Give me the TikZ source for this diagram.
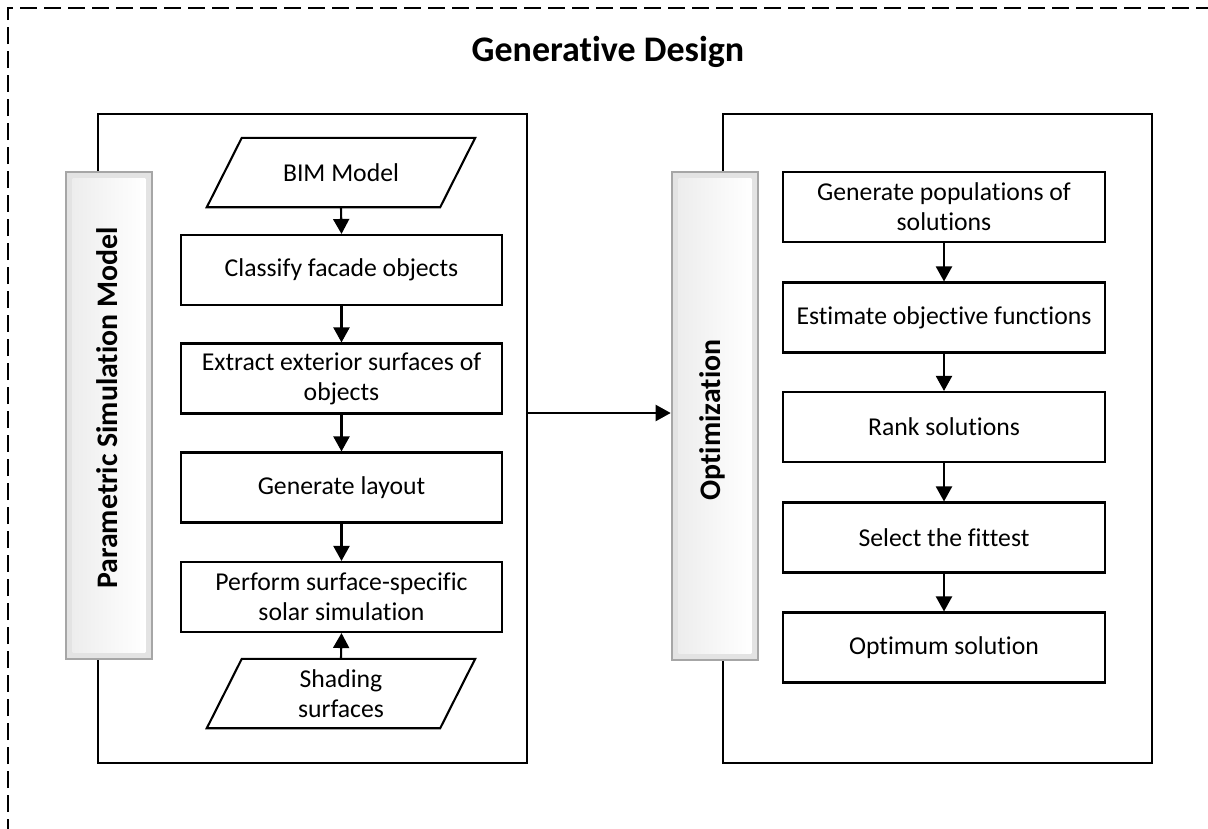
\documentclass[tikz,border=0pt]{standalone}
\usepackage{fontspec}
\setmainfont{Carlito}[Ligatures={NoCommon,NoContextual}]
\usetikzlibrary{arrows.meta,calc}
\begin{document}
\begin{tikzpicture}[x=1pt,y=-1pt,
  txt/.style={font=\fontsize{25.7}{30}\selectfont, align=center},
  stepbox/.style={txt, draw, line width=2.1pt, minimum width=321pt, minimum height=70pt, inner sep=0pt},
  databox/.style={txt, minimum width=268pt, minimum height=69pt, inner sep=0pt},
  paraline/.style={line width=2.1pt, line join=miter},
  flow/.style={line width=2.1pt, -{Triangle[length=15pt,width=16pt]}},
  panel/.style={draw, line width=2.1pt, minimum width=429pt, minimum height=649pt, inner sep=0pt},
  bar/.style={draw=gray!70, line width=2.6pt, fill=gray!22, minimum width=86pt, inner sep=0pt},
  barlabel/.style={font=\bfseries\fontsize{29.8}{34}\selectfont, rotate=90},
  frame/.style={line width=1.6pt, dash pattern=on 17pt off 7pt}
]
\useasboundingbox (0,0) rectangle (1208,828);
\clip (0,0) rectangle (1208,828);

% outer dashed frame
\draw[frame] (8,860) -- (8,8) -- (1240,8);

\node[font=\bfseries\fontsize{36}{42}\selectfont] (title) at (608,52) {Generative Design};

% the two panels
\node[panel] (simpanel) at (312.5,438.5) {};
\node[panel] (optpanel) at (937.5,438.5) {};

% vertical label bars
\node[bar, minimum height=487pt] (simbar) at (109,415.5) {};
\shade[left color=gray!14, right color=white] ($(simbar.north west)+(8,8)$) rectangle ($(simbar.south east)+(-8,-8)$);
\node[barlabel] (simlabel) at (107,408) {Parametric Simulation Model};

\node[bar, minimum height=488pt] (optbar) at (715,416) {};
\shade[left color=gray!14, right color=white] ($(optbar.north west)+(8,8)$) rectangle ($(optbar.south east)+(-8,-8)$);
\node[barlabel] (optlabel) at (712,420) {Optimization};

% left flow: simulation model
\node[databox] (bim) at (341,172.5) {BIM Model};
\draw[paraline] ($(bim.north west)+(35,0)$) -- (bim.north east) -- ($(bim.south east)+(-35,0)$) -- (bim.south west) -- cycle;
\node[stepbox] (classify) at (341.5,270) {Classify facade objects};
\node[stepbox] (extract) at (341.5,378.5) {Extract exterior surfaces of\\objects};
\node[stepbox] (layout) at (341.5,487.5) {Generate layout};
\node[stepbox] (solar) at (341.5,597) {Perform surface-specific\\solar simulation};
\node[databox] (shading) at (341,693.5) {Shading\\surfaces};
\draw[paraline] ($(shading.north west)+(35,0)$) -- (shading.north east) -- ($(shading.south east)+(-35,0)$) -- (shading.south west) -- cycle;

\draw[flow] (bim.south) -- (classify.north);
\draw[flow] (classify) -- (extract);
\draw[flow] (extract) -- (layout);
\draw[flow] (layout) -- (solar);
\draw[flow] (shading.north) -- (solar.south);

% right flow: optimization
\node[stepbox, minimum width=322pt] (populate) at (944,207) {Generate populations of\\solutions};
\node[stepbox, minimum width=322pt] (estimate) at (944,317.5) {Estimate objective functions};
\node[stepbox, minimum width=322pt] (rank) at (944,427) {Rank solutions};
\node[stepbox, minimum width=322pt] (select) at (944,537.5) {Select the fittest};
\node[stepbox, minimum width=322pt] (optimum) at (944,647.5) {Optimum solution};

\draw[flow] (populate) -- (estimate);
\draw[flow] (estimate) -- (rank);
\draw[flow] (rank) -- (select);
\draw[flow] (select) -- (optimum);

% link between the panels
\coordinate (linkstart) at (simpanel.east |- 0,413);
\draw[flow] (linkstart) -- (optbar.west |- linkstart);
\end{tikzpicture}
\end{document}
